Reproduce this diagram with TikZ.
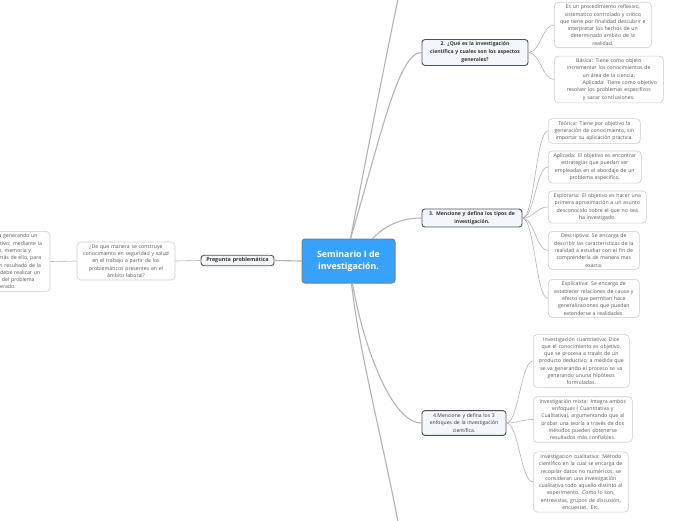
\documentclass[tikz,border=0pt]{standalone}
\usepackage{fontspec}
\setmainfont{Open Sans}
\usepackage{tikz}
\usetikzlibrary{positioning}
\definecolor{ctrc}{HTML}{36A2FD}
\definecolor{ctrd}{HTML}{7A7F86}
\definecolor{brd}{HTML}{4D5359}
\definecolor{brf}{HTML}{F3F7FC}
\definecolor{lfd}{HTML}{CDCDCD}
\definecolor{txc}{HTML}{5A5A5A}
\definecolor{lnc}{HTML}{B3B3B3}
\tikzset{
  ctr/.style={draw=ctrd,line width=1pt,fill=ctrc,rounded corners=3pt,text=white,font=\bfseries\fontsize{8.8}{12.4}\selectfont,align=center,inner sep=0pt,minimum width=93pt,minimum height=44pt},
  br/.style={draw=brd,line width=0.9pt,fill=brf,rounded corners=3pt,text=black!80,font=\bfseries\fontsize{5.1}{7.9}\selectfont,align=center,inner sep=2.5pt},
  lf/.style={draw=lfd,line width=0.6pt,fill=white,rounded corners=4pt,text=txc,font=\fontsize{5.2}{7.3}\selectfont,align=center,inner sep=2.5pt,anchor=west},
  ln/.style={draw=lnc,line width=1.1pt},
  lnl/.style={draw=lnc,line width=0.6pt}
}
\newcommand{\lfto}[2]{\draw[lnl] (#1.east) .. controls +(12,0) and +(-12,0) .. (#2.west);}

\begin{document}
\begin{tikzpicture}[x=1pt,y=-1pt]
\useasboundingbox (0,0) rectangle (696,520);
\clip (0,0) rectangle (696,520);
% center and main branches
\node[ctr] (sem) at (348.5,261) {Seminario I de\\investigación.};
\node[br,text width=101pt] (q2) at (475,52.5) {2. ¿Qué es la investigación\\científica y cuales son los aspectos\\generales?};
\node[br,text width=95pt] (q3) at (472,218) {3. Mencione y defina los tipos de\\investigación.};
\node[br,text width=79pt,font=\fontsize{5.1}{7.9}\selectfont] (q4) at (464,423) {4.Mencione y defina los 3\\enfoques de la investigación\\científica.};
\node[br,text width=68pt,font=\bfseries\fontsize{5.4}{7.9}\selectfont] (pp) at (237.5,260.5) {Pregunta problemática};
\node[lf,anchor=center,text width=93pt] (qq) at (126,261) {¿De que manera se construye\\conocimiento en seguridad y salud\\en el trabajo a partir de los\\problemáticos presentes en el\\ámbito laboral?};
\node[lf,anchor=center,text width=95pt] (lc) at (0,261.5) {saber que se va generando un\\proceso cognoscitivo: mediante la\\la percepción, memoria y\\experiencia, además de ello, para\\poder obtener un resultado de la\\investigación se debe realizar un\\previo estudio del problema\\considerado.};
\coordinate (up) at (402,-20);
\coordinate (dn) at (402,545);
% leaves of 2
\node[lf,text width=92pt] (la) at (554,25) {Es un procedimiento reflexivo,\\sistematico controlado y critico\\que tiene por finalidad descubrir e\\interpretar los hechos de un\\determinado ambito de la\\realidad.};
\node[lf,text width=104pt] (lb) at (554,79.5) {Básica: Tiene como objeto\\incrementar los conocimientos de\\un área de la ciencia.\\\hspace*{22pt}Aplicada: Tiene como objetivo\\resolver los problemas especificos\\y sacar conclusiones.};
% leaves of 3
\node[lf,text width=87pt] (lt) at (548,131) {Teórica: Tiene por objetivo la\\generación de conocimiento, sin\\importar su aplicación practica.};
\node[lf,text width=88pt] (la2) at (548,167) {Aplicada: El objetivo es encontrar\\estrategias que puedan ser\\empleadas en el abordaje de un\\problema especifico.};
\node[lf,text width=93pt] (lx) at (548,207) {Exploraria: El objetivo es hacer una\\primera aproximación a un asunto\\desconocido sobre el que no sea\\ha investigado.};
\node[lf,text width=86pt] (ld) at (548,250.5) {Descriptiva: Se encarga de\\describir las caracteristicas de la\\realidad a estudiar con el fin de\\comprenderla de manera mas\\exacta.};
\node[lf,text width=86pt] (le) at (548,298.5) {Explicativa: Se encarga de\\establecer relaciones de causa y\\efecto que permitan hace\\generalizaciones que puedan\\extenderse a realidades.};
% leaves of 4
\node[lf,text width=91pt] (lq) at (533,361) {Investigación cuantitativa: Dice\\que el conocimiento es objetivo,\\que se procesa a través de un\\producto deductivo, a medida que\\se va generando el proceso se va\\generando ununa hipótesis\\formuladas.};
\node[lf,text width=94pt] (lm) at (533,419.5) {Investigación mixta: Integra ambos\\enfoques ( Cuantitativa y\\Cualitativa), argumentando que al\\probar una teoría a través de dos\\métodos pueden obtenerse\\resultados más confiables.};
\node[lf,text width=90pt] (ll) at (533,482) {Investigacion cualitativa: Método\\científico en la cual se encarga de\\recopilar datos no numéricos, se\\consideran una investigación\\cualitativa todo aquello distinto al\\experimento. Como lo son,\\entrevistas, grupos de discusión,\\encuestas. Etc.};
% connectors
\draw[ln] ([xshift=2pt]sem.north) .. controls (362,180) and (385,60) .. (up);
\draw[ln] ([xshift=2pt]sem.north) .. controls (380,140) and (398,52) .. (q2.west);
\draw[ln] ([xshift=24pt]sem.north) .. controls (385,226) and (400,218) .. (q3.west);
\draw[ln] ([xshift=4pt]sem.south) .. controls (362,340) and (390,423) .. (q4.west);
\draw[ln] ([xshift=3pt]sem.south) .. controls (360,360) and (388,460) .. (dn);
\draw[ln] (sem.west) -- (pp.east);
\draw[lnl] (pp.west) -- (qq.east);
\draw[lnl] (qq.west) -- (lc.east);
\lfto{q2}{la}
\lfto{q2}{lb}
\foreach \n in {lt,la2,lx,ld,le} {\lfto{q3}{\n}}
\foreach \n in {lq,lm,ll} {\lfto{q4}{\n}}
\end{tikzpicture}
\end{document}
